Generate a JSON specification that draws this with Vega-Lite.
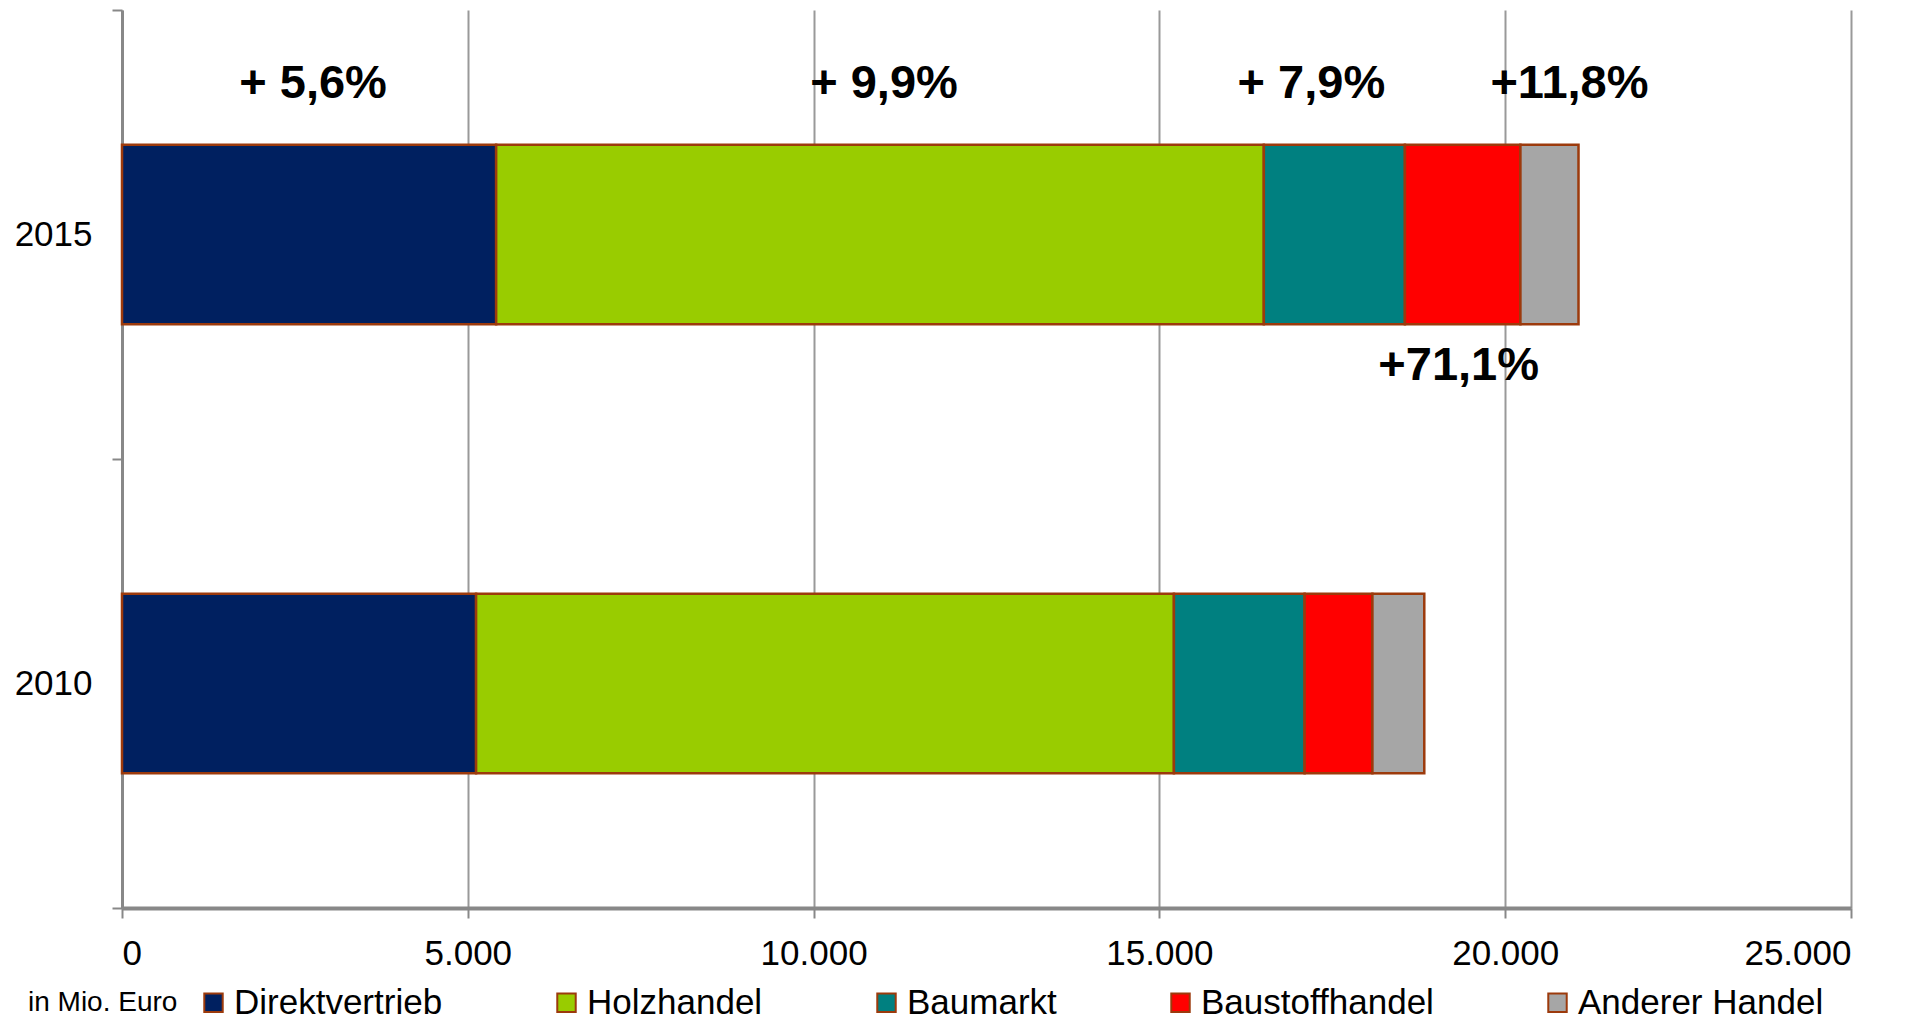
{
  "$schema": "https://vega.github.io/schema/vega-lite/v6.json",
  "width": 1729,
  "height": 898,
  "autosize": {"type": "none"},
  "padding": {"left": 122, "top": 10, "right": 75, "bottom": 115},
  "config": {
    "locale": {"number": {"decimal": ",", "thousands": ".", "grouping": [3], "currency": ["", " €"]}},
    "view": {"stroke": null},
    "font": "Liberation Sans"
  },
  "data": {
    "values": [
      {"year": "2010", "channel": "Direktvertrieb", "idx": 1, "value": 5120, "growth": "+ 5,6%"},
      {"year": "2010", "channel": "Holzhandel", "idx": 2, "value": 10090, "growth": "+ 9,9%"},
      {"year": "2010", "channel": "Baumarkt", "idx": 3, "value": 1890, "growth": "+ 7,9%"},
      {"year": "2010", "channel": "Baustoffhandel", "idx": 4, "value": 980, "growth": "+71,1%"},
      {"year": "2010", "channel": "Anderer Handel", "idx": 5, "value": 750, "growth": "+11,8%"},
      {"year": "2015", "channel": "Direktvertrieb", "idx": 1, "value": 5410, "growth": "+ 5,6%"},
      {"year": "2015", "channel": "Holzhandel", "idx": 2, "value": 11100, "growth": "+ 9,9%"},
      {"year": "2015", "channel": "Baumarkt", "idx": 3, "value": 2040, "growth": "+ 7,9%"},
      {"year": "2015", "channel": "Baustoffhandel", "idx": 4, "value": 1670, "growth": "+71,1%"},
      {"year": "2015", "channel": "Anderer Handel", "idx": 5, "value": 840, "growth": "+11,8%"}
    ]
  },
  "layer": [
    {
      "mark": {"type": "bar", "stroke": "#9c3a0c", "strokeWidth": 2.5, "height": {"band": 0.4}},
      "encoding": {
        "y": {
          "field": "year", "type": "nominal", "sort": "descending",
          "scale": {"paddingInner": 0, "paddingOuter": 0},
          "axis": {
            "title": null, "tickBand": "extent", "grid": false,
            "domainColor": "#888888", "domainWidth": 3,
            "tickColor": "#888888", "tickWidth": 2, "tickSize": 10,
            "labelFontSize": 35, "labelPadding": 20, "labelColor": "#000000"
          }
        },
        "x": {
          "field": "value", "type": "quantitative", "stack": "zero",
          "scale": {"domain": [0, 25000], "nice": false, "zero": true},
          "axis": {
            "title": null, "values": [0, 5000, 10000, 15000, 20000, 25000], "format": ",d",
            "grid": true, "gridColor": "#999999", "gridWidth": 2,
            "domainColor": "#888888", "domainWidth": 4,
            "tickColor": "#888888", "tickWidth": 2, "tickSize": 10,
            "labelFontSize": 35, "labelPadding": 18, "labelColor": "#000000"
          }
        },
        "color": {
          "field": "channel", "type": "nominal",
          "scale": {
            "domain": ["Direktvertrieb", "Holzhandel", "Baumarkt", "Baustoffhandel", "Anderer Handel"],
            "range": ["#002060", "#99CC00", "#008080", "#FF0000", "#A6A6A6"]
          },
          "legend": {
            "orient": "none", "legendX": -94, "legendY": 975, "direction": "horizontal",
            "title": "in Mio. Euro", "titleOrient": "left", "titleFontSize": 28, "titleFontWeight": "normal",
            "titleColor": "#000000", "titlePadding": 18, "titleBaseline": "middle",
            "labelFontSize": 35, "labelColor": "#000000", "labelOffset": 3, "labelLimit": 500,
            "symbolType": "square", "symbolSize": 340, "symbolStrokeColor": "#9c3a0c", "symbolStrokeWidth": 2,
            "symbolOpacity": 1, "columnPadding": 106
          }
        },
        "order": {"field": "idx", "type": "quantitative"}
      }
    },
    {
      "transform": [
        {"filter": "datum.year == '2015'"},
        {"window": [{"op": "sum", "field": "value", "as": "cum"}], "sort": [{"field": "idx"}]},
        {"calculate": "datum.cum - datum.value / 2", "as": "mid"},
        {"filter": "datum.channel == 'Direktvertrieb' || datum.channel == 'Holzhandel'"}
      ],
      "mark": {"type": "text", "fontWeight": "bold", "fontSize": 47, "dy": -151, "dx": 4, "baseline": "middle", "color": "#000000"},
      "encoding": {
        "x": {"field": "mid", "type": "quantitative", "scale": {"domain": [0, 25000], "nice": false}},
        "y": {"field": "year", "type": "nominal", "sort": "descending"},
        "text": {"field": "growth"}
      }
    },
    {
      "transform": [
        {"filter": "datum.year == '2015'"},
        {"window": [{"op": "sum", "field": "value", "as": "cum"}], "sort": [{"field": "idx"}]},
        {"calculate": "datum.cum - datum.value / 2", "as": "mid"},
        {"filter": "datum.channel == 'Baumarkt'"}
      ],
      "mark": {"type": "text", "fontWeight": "bold", "fontSize": 47, "dy": -151, "dx": -23, "baseline": "middle", "color": "#000000"},
      "encoding": {
        "x": {"field": "mid", "type": "quantitative", "scale": {"domain": [0, 25000], "nice": false}},
        "y": {"field": "year", "type": "nominal", "sort": "descending"},
        "text": {"field": "growth"}
      }
    },
    {
      "transform": [
        {"filter": "datum.year == '2015'"},
        {"window": [{"op": "sum", "field": "value", "as": "cum"}], "sort": [{"field": "idx"}]},
        {"calculate": "datum.cum - datum.value / 2", "as": "mid"},
        {"filter": "datum.channel == 'Anderer Handel'"}
      ],
      "mark": {"type": "text", "fontWeight": "bold", "fontSize": 47, "dy": -151, "dx": 20, "baseline": "middle", "color": "#000000"},
      "encoding": {
        "x": {"field": "mid", "type": "quantitative", "scale": {"domain": [0, 25000], "nice": false}},
        "y": {"field": "year", "type": "nominal", "sort": "descending"},
        "text": {"field": "growth"}
      }
    },
    {
      "transform": [
        {"filter": "datum.year == '2015'"},
        {"window": [{"op": "sum", "field": "value", "as": "cum"}], "sort": [{"field": "idx"}]},
        {"calculate": "datum.cum - datum.value / 2", "as": "mid"},
        {"filter": "datum.channel == 'Baustoffhandel'"}
      ],
      "mark": {"type": "text", "fontWeight": "bold", "fontSize": 47, "dy": 131, "dx": -4, "baseline": "middle", "color": "#000000"},
      "encoding": {
        "x": {"field": "mid", "type": "quantitative", "scale": {"domain": [0, 25000], "nice": false}},
        "y": {"field": "year", "type": "nominal", "sort": "descending"},
        "text": {"field": "growth"}
      }
    }
  ]
}
